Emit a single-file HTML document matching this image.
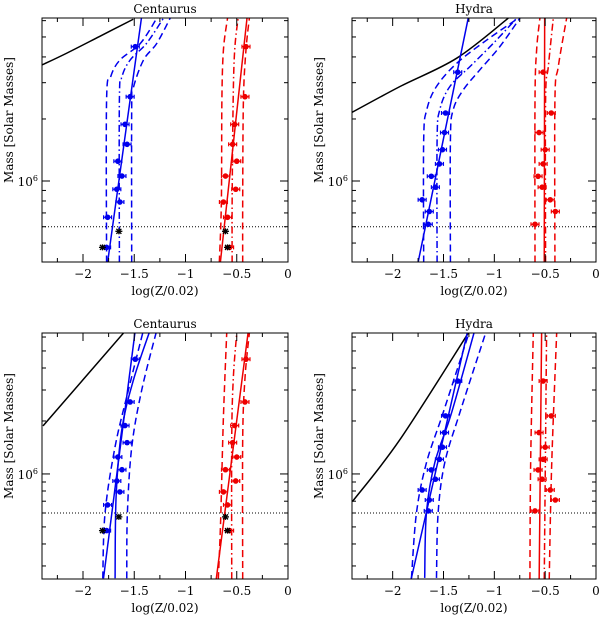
<!DOCTYPE html>
<html><head><meta charset="utf-8">
<style>
html,body{margin:0;padding:0;background:#fff;}
svg{display:block;font-family:"DejaVu Serif","Liberation Serif",serif;}
</style></head>
<body>
<svg id="chart" width="600" height="617" viewBox="0 0 600 617" xmlns="http://www.w3.org/2000/svg"></svg>
<script>
// ---- data (log(Z/0.02), log10 Mass) ----
const xTicks = [-2, -1.5, -1, -0.5, 0];
const xTickLabels = ["\u22122", "\u22121.5", "\u22121", "\u22120.5", "0"];
const cutMass = 5.778;

const centM = [6.652,6.409,6.275,6.178,6.096,6.024,5.960,5.898,5.824,5.678];
const centBlueZ = [-1.49,-1.54,-1.59,-1.57,-1.66,-1.62,-1.67,-1.64,-1.76,-1.77];
const centRedZ = [-0.41,-0.42,-0.52,-0.54,-0.50,-0.61,-0.51,-0.63,-0.59,-0.57];
const centBlackZ = [-1.65,-1.81,-0.61,-0.59];
const centBlackM = [5.756,5.678,5.756,5.678];

const hydraM = [6.528,6.330,6.235,6.152,6.083,6.023,5.970,5.909,5.852,5.790];
const hydraBlueZ = [-1.36,-1.48,-1.49,-1.51,-1.54,-1.62,-1.58,-1.71,-1.64,-1.65];
const hydraRedZ = [-0.52,-0.44,-0.56,-0.50,-0.52,-0.57,-0.53,-0.45,-0.40,-0.60];

// model curves: [Z array, M array]
const tlBlueA = [[-1.77,-1.77,-1.73,-1.64,-1.44,-1.28],[5.605,6.393,6.506,6.587,6.668,6.79]];
const tlBlueB = [[-1.645,-1.645,-1.62,-1.54,-1.38,-1.215],[5.605,6.393,6.506,6.587,6.668,6.79]];
const tlBlueC = [[-1.525,-1.525,-1.51,-1.41,-1.28,-1.15],[5.605,6.35,6.45,6.587,6.668,6.79]];
const tlBlueFit = [[-1.76,-1.43],[5.605,6.79]];
const tlBlack = [[-2.40,-2.16,-1.84,-1.51],[6.563,6.62,6.701,6.785]];
const tlRedA = [[-0.67,-0.65,-0.645,-0.63,-0.59],[5.605,5.9,6.393,6.636,6.79]];
const tlRedB = [[-0.545,-0.545,-0.535,-0.52,-0.487],[5.605,5.9,6.393,6.636,6.79]];
const tlRedC = [[-0.442,-0.442,-0.435,-0.41,-0.377],[5.605,5.9,6.393,6.636,6.79]];
const tlRedFit = [[-0.66,-0.40],[5.605,6.79]];

const trBlueA = [[-1.695,-1.695,-1.665,-1.57,-1.37,-1.075,-0.765],[5.605,6.199,6.345,6.458,6.571,6.684,6.79]];
const trBlueB = [[-1.563,-1.563,-1.537,-1.438,-1.24,-1.01,-0.78],[5.605,6.199,6.345,6.458,6.555,6.668,6.79]];
const trBlueC = [[-1.432,-1.432,-1.405,-1.306,-1.143,-0.946,-0.749],[5.605,6.199,6.345,6.442,6.539,6.652,6.79]];
const trBlueFit = [[-1.75,-1.257],[5.605,6.79]];
const trBlack = [[-2.415,-1.93,-1.37,-0.863],[6.329,6.458,6.596,6.79]];
const trRedA = [[-0.60,-0.60,-0.584,-0.552],[5.605,6.393,6.636,6.79]];
const trRedS = [[-0.509,-0.505],[5.605,6.79]];
const trRedB = [[-0.496,-0.496,-0.469,-0.42],[5.605,6.393,6.555,6.79]];
const trRedC = [[-0.404,-0.404,-0.371,-0.289],[5.605,6.393,6.555,6.79]];

const blBlueA = [[-1.807,-1.785,-1.687,-1.557,-1.41],[5.407,5.777,6.155,6.477,6.818]];
const blBlueFit = [[-1.80,-1.49],[5.407,6.818]];
const blBlueB = [[-1.687,-1.677,-1.622,-1.508,-1.345],[5.407,5.871,6.25,6.534,6.818]];
const blBlueC = [[-1.573,-1.567,-1.524,-1.427,-1.28],[5.407,5.777,6.155,6.477,6.818]];
const blBlack = [[-2.39,-1.606],[6.273,6.8]];
const blRedA = [[-0.68,-0.657,-0.631,-0.598],[5.403,5.739,6.307,6.8]];
const blRedFit = [[-0.70,-0.39],[5.403,6.8]];
const blRedB = [[-0.549,-0.549,-0.533,-0.50],[5.403,6.2,6.55,6.8]];
const blRedC = [[-0.442,-0.442,-0.419,-0.377],[5.403,6.2,6.55,6.8]];

const brBlueA = [[-1.815,-1.766,-1.668,-1.504,-1.24],[5.409,5.778,6.063,6.347,6.818]];
const brBlueFit = [[-1.818,-1.26],[5.403,6.818]];
const brBlueB = [[-1.685,-1.668,-1.586,-1.421,-1.192],[5.409,5.778,6.063,6.347,6.818]];
const brBlueC = [[-1.569,-1.553,-1.488,-1.34,-1.076],[5.409,5.778,6.063,6.347,6.818]];
const brBlack = [[-2.396,-1.931,-1.257],[5.843,6.193,6.8]];
const brRedA = [[-0.65,-0.643,-0.617],[5.403,6.05,6.8]];
const brRedS1 = [[-0.559,-0.535],[5.403,6.8]];
const brRedS2 = [[-0.509,-0.486],[5.403,6.8]];
const brRedC = [[-0.46,-0.436,-0.387],[5.403,6.05,6.8]];

const NS = "http://www.w3.org/2000/svg";
const svg = document.getElementById("chart");
function mk(tag, attrs, parent){
  const e = document.createElementNS(NS, tag);
  for (const k in attrs) e.setAttribute(k, attrs[k]);
  (parent||svg).appendChild(e);
  return e;
}
const BLUE="#0000ee", RED="#ee0000";
const DASH="7,4", DDOT="7,3,1.5,3";

function panel(id, title, x0, x1, y0, y1, mMin, mMax, curves, pts, blacks){
  const g = mk("g", {});
  
  
  const sx = z => x0 + (z + 2.4) / 2.4 * (x1 - x0);
  const sy = m => y1 - (m - mMin) / (mMax - mMin) * (y1 - y0);
  const cp = mk("clipPath", {id: id + "-clip"}, g);
  mk("rect", {x:x0, y:y0, width:x1-x0, height:y1-y0}, cp);
  const plot = mk("g", {"clip-path": "url(#" + id + "-clip)"}, g);

  const cl = mk("line", {x1:x0, x2:x1, y1:sy(cutMass), y2:sy(cutMass), stroke:"#000", "stroke-width":1, "stroke-dasharray":"1,2"}, plot);
  
  

  curves.forEach(c => {
    const zs = c.d[0], ms = c.d[1];
    const P = zs.map((z,i) => [sx(z), sy(ms[i])]);
    let d = "M" + P[0][0] + "," + P[0][1];
    for (let i = 0; i < P.length - 1; i++){
      const p0 = P[Math.max(0,i-1)], p1 = P[i], p2 = P[i+1], p3 = P[Math.min(P.length-1,i+2)];
      const c1 = [p1[0] + (p2[0]-p0[0])/6, p1[1] + (p2[1]-p0[1])/6];
      const c2 = [p2[0] - (p3[0]-p1[0])/6, p2[1] - (p3[1]-p1[1])/6];
      d += "C" + c1[0] + "," + c1[1] + " " + c2[0] + "," + c2[1] + " " + p2[0] + "," + p2[1];
    }
    const a = {d:d, fill:"none", stroke:c.col, "stroke-width":1.5};
    if (c.dash) a["stroke-dasharray"] = c.dash;
    const p = mk("path", a, plot);
    
    
  });

  pts.forEach(s => {
    s.z.forEach((z, i) => {
      const cx = sx(z), cy = sy(s.m[i]), e = 4;
      const pg = mk("g", {}, plot);
      
      
      mk("line", {x1:cx-e, x2:cx+e, y1:cy, y2:cy, stroke:s.col, "stroke-width":1.2}, pg);
      mk("line", {x1:cx-e, x2:cx-e, y1:cy-2, y2:cy+2, stroke:s.col, "stroke-width":1.2}, pg);
      mk("line", {x1:cx+e, x2:cx+e, y1:cy-2, y2:cy+2, stroke:s.col, "stroke-width":1.2}, pg);
      mk("circle", {cx:cx, cy:cy, r:2.8, fill:s.col}, pg);
    });
  });
  if (blacks){
    blacks[0].forEach((z, i) => {
      const cx = sx(z), cy = sy(blacks[1][i]);
      const bg = mk("g", {stroke:"#000", "stroke-width":1.3}, plot);
      
      
      mk("line", {x1:cx-3.5, x2:cx+3.5, y1:cy, y2:cy}, bg);
      mk("line", {x1:cx-2.5, x2:cx+2.5, y1:cy-2.5, y2:cy+2.5}, bg);
      mk("line", {x1:cx-2.5, x2:cx+2.5, y1:cy+2.5, y2:cy-2.5}, bg);
      mk("line", {x1:cx, x2:cx, y1:cy-3, y2:cy+3}, bg);
    });
  }

  const fr = mk("rect", {x:x0, y:y0, width:x1-x0, height:y1-y0, fill:"none", stroke:"#000", "stroke-width":1}, g);
  
  

  for (let k = 0; k <= 9; k++){
    const z = -2.25 + k * 0.25;
    if (z > 0.001) break;
    const X = sx(z), maj = Math.abs(z*2 - Math.round(z*2)) < 1e-6, L = maj ? 8 : 4;
    mk("line", {x1:X, x2:X, y1:y1, y2:y1-L, stroke:"#000", "stroke-width":1}, g);
    mk("line", {x1:X, x2:X, y1:y0, y2:y0+L, stroke:"#000", "stroke-width":1}, g);
  }
  xTicks.forEach((z, i) => {
    const t = mk("text", {x:sx(z), y:y1+16, "text-anchor":"middle", "font-size":12}, g);
    t.textContent = xTickLabels[i];
    
    
  });
  for (let dec = 5; dec <= 6; dec++){
    for (let j = 1; j <= 9; j++){
      const m = dec + Math.log10(j);
      if (m < mMin || m > mMax) continue;
      const Y = sy(m), L = (j === 1) ? 8 : 4;
      mk("line", {x1:x0, x2:x0+L, y1:Y, y2:Y, stroke:"#000", "stroke-width":1}, g);
      mk("line", {x1:x1, x2:x1-L, y1:Y, y2:Y, stroke:"#000", "stroke-width":1}, g);
    }
  }
  const yl = mk("text", {x:x0-4, y:sy(6)+5, "text-anchor":"end", "font-size":12}, g);
  
  
  yl.innerHTML = '10<tspan dy="-5" font-size="8">6</tspan>';

  const tt = mk("text", {x:(x0+x1)/2, y:y0-5, "text-anchor":"middle", "font-size":12}, g);
  tt.textContent = title;
  
  
  const xt = mk("text", {x:(x0+x1)/2, y:y1+33, "text-anchor":"middle", "font-size":12}, g);
  xt.textContent = "log(Z/0.02)";
  
  
  const cy = (y0+y1)/2 - 20;
  const ytl = mk("text", {x:x0-29, y:cy, "text-anchor":"middle", "font-size":12, transform:"rotate(-90 " + (x0-29) + " " + cy + ")"}, g);
  ytl.textContent = "Mass [Solar Masses]";
  
  
}

panel("centaurus-top", "Centaurus", 42, 288, 18, 262, 5.607, 6.791, [
  {d:tlBlack, col:"#000", name:"black-relation-curve"},
  {d:tlBlueA, col:BLUE, dash:DASH, name:"blue-model-low"},
  {d:tlBlueB, col:BLUE, dash:DDOT, name:"blue-model-mid"},
  {d:tlBlueC, col:BLUE, dash:DASH, name:"blue-model-high"},
  {d:tlBlueFit, col:BLUE, name:"blue-fit-line"},
  {d:tlRedA, col:RED, dash:DASH, name:"red-model-low"},
  {d:tlRedB, col:RED, dash:DDOT, name:"red-model-mid"},
  {d:tlRedC, col:RED, dash:DASH, name:"red-model-high"},
  {d:tlRedFit, col:RED, name:"red-fit-line"}
], [{z:centBlueZ, m:centM, col:BLUE, name:"blue"}, {z:centRedZ, m:centM, col:RED, name:"red"}], [centBlackZ, centBlackM]);

panel("hydra-top", "Hydra", 352, 596, 18, 262, 5.607, 6.791, [
  {d:trBlack, col:"#000", name:"black-relation-curve"},
  {d:trBlueA, col:BLUE, dash:DASH, name:"blue-model-low"},
  {d:trBlueB, col:BLUE, dash:DDOT, name:"blue-model-mid"},
  {d:trBlueC, col:BLUE, dash:DASH, name:"blue-model-high"},
  {d:trBlueFit, col:BLUE, name:"blue-fit-line"},
  {d:trRedA, col:RED, dash:DASH, name:"red-model-low"},
  {d:trRedS, col:RED, name:"red-fit-line"},
  {d:trRedB, col:RED, dash:DDOT, name:"red-model-mid"},
  {d:trRedC, col:RED, dash:DASH, name:"red-model-high"}
], [{z:hydraBlueZ, m:hydraM, col:BLUE, name:"blue"}, {z:hydraRedZ, m:hydraM, col:RED, name:"red"}], null);

panel("centaurus-bottom", "Centaurus", 42, 288, 333, 579, 5.403, 6.801, [
  {d:blBlack, col:"#000", name:"black-relation-curve"},
  {d:blBlueA, col:BLUE, dash:DASH, name:"blue-model-low"},
  {d:blBlueB, col:BLUE, name:"blue-model-mid"},
  {d:blBlueC, col:BLUE, dash:DASH, name:"blue-model-high"},
  {d:blBlueFit, col:BLUE, name:"blue-fit-line"},
  {d:blRedA, col:RED, dash:DASH, name:"red-model-low"},
  {d:blRedB, col:RED, dash:DDOT, name:"red-model-mid"},
  {d:blRedC, col:RED, dash:DASH, name:"red-model-high"},
  {d:blRedFit, col:RED, name:"red-fit-line"}
], [{z:centBlueZ, m:centM, col:BLUE, name:"blue"}, {z:centRedZ, m:centM, col:RED, name:"red"}], [centBlackZ, centBlackM]);

panel("hydra-bottom", "Hydra", 352, 596, 333, 579, 5.403, 6.801, [
  {d:brBlack, col:"#000", name:"black-relation-curve"},
  {d:brBlueA, col:BLUE, dash:DASH, name:"blue-model-low"},
  {d:brBlueB, col:BLUE, name:"blue-model-mid"},
  {d:brBlueC, col:BLUE, dash:DASH, name:"blue-model-high"},
  {d:brBlueFit, col:BLUE, name:"blue-fit-line"},
  {d:brRedA, col:RED, dash:DASH, name:"red-model-low"},
  {d:brRedS1, col:RED, name:"red-fit-line"},
  {d:brRedS2, col:RED, dash:DDOT, name:"red-model-mid"},
  {d:brRedC, col:RED, dash:DASH, name:"red-model-high"}
], [{z:hydraBlueZ, m:hydraM, col:BLUE, name:"blue"}, {z:hydraRedZ, m:hydraM, col:RED, name:"red"}], null);
</script>
</body></html>
